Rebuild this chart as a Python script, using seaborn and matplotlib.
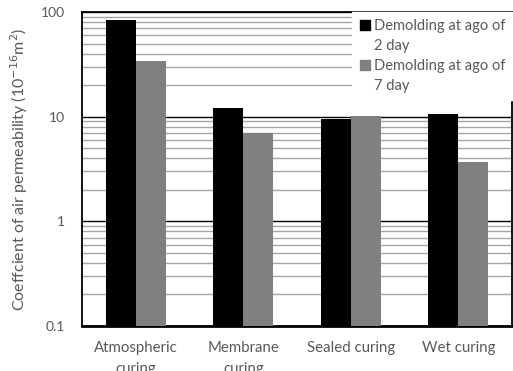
import matplotlib
matplotlib.use("Agg")
import matplotlib.pyplot as plt
import matplotlib.ticker as mticker
import seaborn as sns
import pandas as pd

categories = ["Atmospheric\ncuring", "Membrane\ncuring", "Sealed curing", "Wet curing"]
series_names = ["Demolding at ago of\n2 day", "Demolding at ago of\n7 day"]
day2 = [84.0, 12.2, 9.4, 10.7]
day7 = [34.0, 7.0, 10.2, 3.7]
colors = ["#000000", "#808080"]

df = pd.DataFrame({
    "curing": categories * 2,
    "series": [series_names[0]] * 4 + [series_names[1]] * 4,
    "value": day2 + day7,
})

sns.set_theme(style="white")
plt.rcParams["font.family"] = ["Lato", "DejaVu Sans"]
text_color = "#595959"

fig = plt.figure(figsize=(5.13, 3.71), dpi=100)
ax = fig.add_axes([82 / 513, 1 - 326 / 371, 430 / 513, 314 / 371])

sns.barplot(data=df, x="curing", y="value", hue="series", palette=colors,
            width=0.56, gap=0, saturation=1, ax=ax, zorder=3, legend=False,
            edgecolor="none", linewidth=0)

ax.set_yscale("log")
ax.set_ylim(0.1, 100)
ax.set_xlim(-0.5, 3.5)
ax.yaxis.set_major_locator(mticker.FixedLocator([0.1, 1, 10, 100]))
ax.yaxis.set_major_formatter(mticker.FixedFormatter(["0.1", "1", "10", "100"]))
ax.yaxis.set_minor_locator(mticker.LogLocator(base=10, subs=range(2, 10)))
ax.yaxis.set_minor_formatter(mticker.NullFormatter())
ax.grid(which="major", axis="y", color="#000000", linewidth=1.0, zorder=1)
ax.grid(which="minor", axis="y", color="#a6a6a6", linewidth=1.0, zorder=1)
ax.set_axisbelow(True)

ax.tick_params(axis="both", which="both", length=0, labelcolor=text_color)
ax.tick_params(axis="y", pad=12, labelsize=10)
ax.tick_params(axis="x", pad=11, labelsize=10.8)
for lbl in ax.get_xticklabels():
    lbl.set_linespacing(1.6)
    lbl.set_verticalalignment("top")
ax.set_xlabel("")
ax.set_ylabel("Coeffcient of air permeability (10$^{-16}$m$^2$)",
              fontsize=11.5, color=text_color)
ax.yaxis.set_label_coords(-0.121, 0.5)

for side in ["left", "right", "top"]:
    ax.spines[side].set_color("#000000")
    ax.spines[side].set_linewidth(1.3)
ax.spines["bottom"].set_color("#000000")
ax.spines["bottom"].set_linewidth(2.0)

# legend: each entry wraps onto a second row; the marker sits on the first row
legend_rows = []
legend_handles = []
for name, c in zip(series_names, colors):
    first, second = name.split("\n")
    legend_rows += [first, second]
    legend_handles += [
        plt.Line2D([], [], marker="s", linestyle="none", markersize=7,
                   markerfacecolor=c, markeredgecolor=c),
        plt.Line2D([], [], linestyle="none"),
    ]
leg = ax.legend(legend_handles, legend_rows, loc="upper left",
                bbox_to_anchor=((352 - 82) / 430, 1.0), frameon=True,
                fancybox=False, framealpha=1.0, edgecolor="white",
                fontsize=10.5, handletextpad=0.25, handlelength=0.75,
                borderpad=0.5, labelspacing=0.4, borderaxespad=0.0)
leg.set_zorder(5)
for t in leg.get_texts():
    t.set_color(text_color)

fig.savefig("out.png", dpi=100)
